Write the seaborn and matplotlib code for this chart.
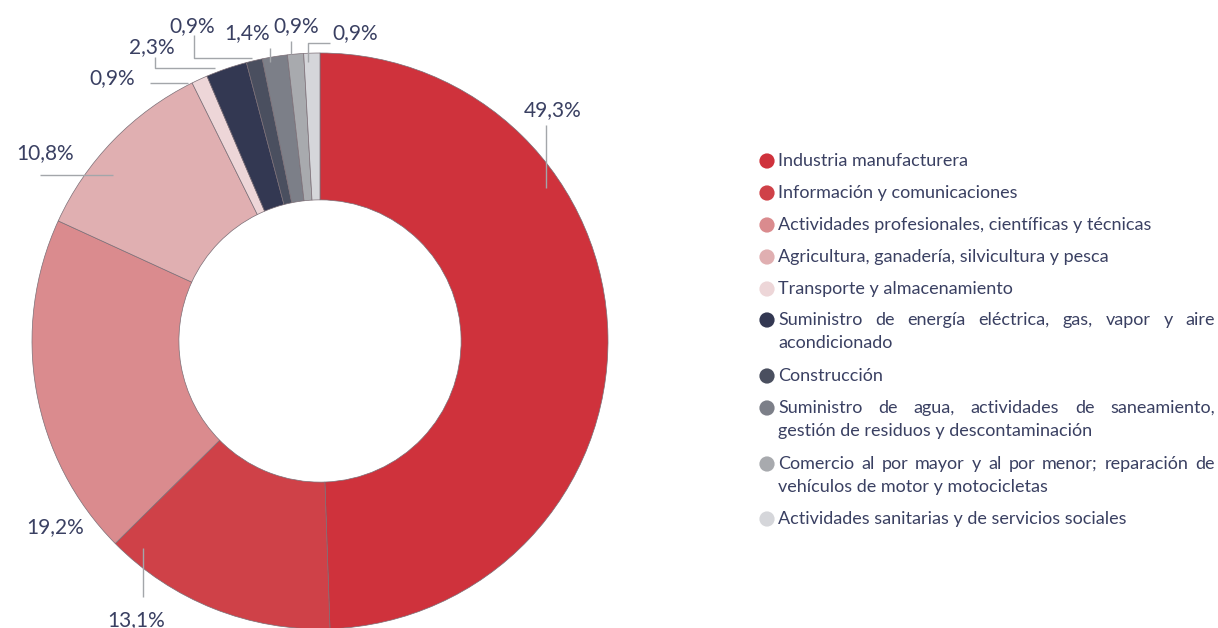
import matplotlib
matplotlib.use("Agg")
import matplotlib.pyplot as plt
import seaborn as sns

# Sectors, shares (%) and colours
sectors = [
    "Industria manufacturera",
    "Información y comunicaciones",
    "Actividades profesionales, científicas y técnicas",
    "Agricultura, ganadería, silvicultura y pesca",
    "Transporte y almacenamiento",
    "Suministro de energía eléctrica, gas, vapor y aire acondicionado",
    "Construcción",
    "Suministro de agua, actividades de saneamiento, gestión de residuos y descontaminación",
    "Comercio al por mayor y al por menor; reparación de vehículos de motor y motocicletas",
    "Actividades sanitarias y de servicios sociales",
]
shares = [49.3, 13.1, 19.2, 10.8, 0.9, 2.3, 0.9, 1.4, 0.9, 0.9]
colors = ["#CF323C", "#CF4148", "#DA8B8E", "#E0AFB1", "#EDD6D8",
          "#333852", "#4A4F5F", "#7C7F88", "#A8AAAE", "#D5D6DA"]

# Legend lines (justified lines carry a flag)
legend_lines = [
    [("Industria manufacturera", False)],
    [("Información y comunicaciones", False)],
    [("Actividades profesionales, científicas y técnicas", False)],
    [("Agricultura, ganadería, silvicultura y pesca", False)],
    [("Transporte y almacenamiento", False)],
    [("Suministro de energía eléctrica, gas, vapor y aire", True), ("acondicionado", False)],
    [("Construcción", False)],
    [("Suministro de agua, actividades de saneamiento,", True), ("gestión de residuos y descontaminación", False)],
    [("Comercio al por mayor y al por menor; reparación de", True), ("vehículos de motor y motocicletas", False)],
    [("Actividades sanitarias y de servicios sociales", False)],
]

sns.set_theme(style="white")
plt.rcParams["font.family"] = ["Lato", "DejaVu Sans"]

W, H = 1218, 628
fig = plt.figure(figsize=(W / 100, H / 100), dpi=100)
ax = fig.add_axes([0, 0, 1, 1])

cx, cy, R = 320, H - 341, 288
ax.pie(shares, colors=colors, startangle=90, counterclock=False,
       center=(cx, cy), radius=R, frame=True,
       wedgeprops=dict(width=0.51 * R, edgecolor="#7b6e76", linewidth=0.5))
ax.set_xlim(0, W)
ax.set_ylim(0, H)
ax.set_aspect("equal")
ax.axis("off")

txt_color = "#3A4062"
line_color = "#A3A6AA"

def fy(y):
    return H - y

# Percentage labels: text position and leader polyline (pixel layout)
label_layout = [
    ((553, 110), [(546, 125), (546, 188)]),
    ((136, 620), [(143, 548), (143, 597)]),
    ((55, 527), None),
    ((45, 153), [(40, 175), (113, 175)]),
    ((112, 78), [(150, 83), (188, 83)]),
    ((152, 47), [(155, 57), (155, 68), (215, 68)]),
    ((192, 26), [(194, 35), (194, 58), (252, 58)]),
    ((247, 33), [(270, 48), (270, 62)]),
    ((296, 26), [(291, 41), (291, 54)]),
    ((355, 33), [(330, 43), (308, 43), (308, 62)]),
]
for val, (tpos, poly) in zip(shares, label_layout):
    lab = f"{val:.1f}%".replace(".", ",")
    ax.text(tpos[0], fy(tpos[1]), lab, ha="center", va="center",
            fontsize=15, color=txt_color, zorder=5)
    if poly:
        ax.plot([p[0] for p in poly], [fy(p[1]) for p in poly],
                color=line_color, lw=1.0, zorder=4, solid_capstyle="butt")

# Legend
renderer = fig.canvas.get_renderer()
lx_marker, lx_text, rx_text = 767, 778, 1215
row_y = [161, 193, 225, 257, 289, 320, 376, 408, 464, 519]
line_gap = 23
fs = 13

def draw_justified(x0, x1, y, s):
    words = s.split(" ")
    arts = [ax.text(0, y, w, ha="left", va="center", fontsize=fs,
                    color=txt_color) for w in words]
    widths = [a.get_window_extent(renderer).width for a in arts]
    gap = (x1 - x0 - sum(widths)) / (len(words) - 1)
    x = x0
    for a, wdt in zip(arts, widths):
        a.set_x(x)
        x += wdt + gap

for col, y0, lines in zip(colors, row_y, legend_lines):
    ax.scatter([lx_marker], [fy(y0)], s=120, color=col, edgecolor="none", zorder=5)
    for i, (s, just) in enumerate(lines):
        yy = fy(y0 + i * line_gap)
        if just:
            draw_justified(lx_text, rx_text, yy, s)
        else:
            ax.text(lx_text, yy, s, ha="left", va="center", fontsize=fs,
                    color=txt_color)

fig.savefig("out.png", dpi=100, facecolor="white")
